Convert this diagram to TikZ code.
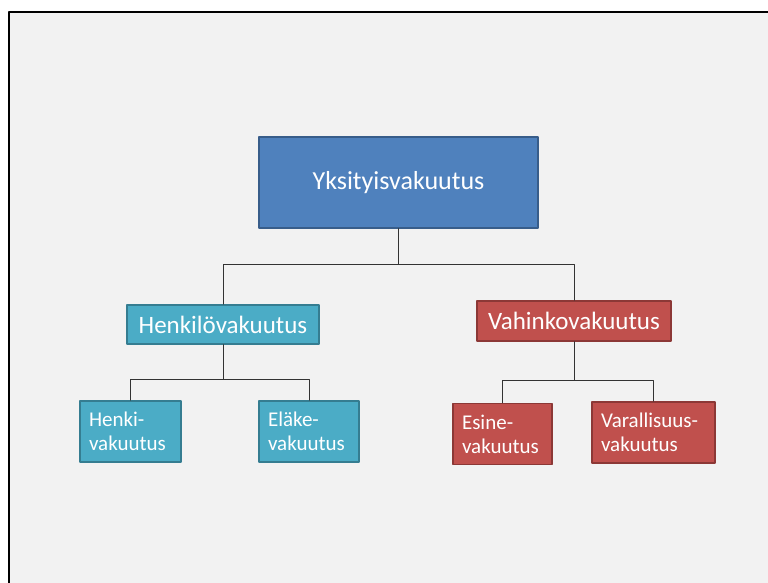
\documentclass[tikz,border=0pt]{standalone}
\usepackage{fontspec}
\setmainfont{Carlito}
\definecolor{slidegray}{HTML}{F2F2F2}
\definecolor{bluefill}{HTML}{4F81BD}
\definecolor{blueline}{HTML}{385D8A}
\definecolor{cyanfill}{HTML}{4BACC6}
\definecolor{cyanline}{HTML}{357D91}
\definecolor{redfill}{HTML}{C0504D}
\definecolor{redline}{HTML}{8C3836}
\tikzset{
  box/.style={rectangle,draw,line width=1.6pt,text=white,inner sep=0pt,align=center},
  leaf/.style={box,align=left,font=\fontsize{21}{24}\selectfont},
  link/.style={draw=black!80,line width=0.9pt}
}
\begin{document}
\begin{tikzpicture}[x=1pt,y=-1pt,line cap=round,line join=round]
\useasboundingbox (0,0) rectangle (768,583);
\fill[white] (0,0) rectangle (768,583);
\fill[slidegray] (8.5,12.5) rectangle (768,583);
\draw[line width=2pt] (8.5,583)--(8.5,12.5)--(768,12.5);
% boxes
\node[box,fill=bluefill,draw=blueline,minimum width=279,minimum height=91,
  font=\fontsize{26}{31}\selectfont] (yks) at (398.5,182.5) {Yksityisvakuutus};
\node[box,fill=cyanfill,draw=cyanline,minimum width=192,minimum height=39,
  font=\fontsize{25}{30}\selectfont] (henk) at (223,324.5) {Henkilövakuutus};
\node[box,fill=redfill,draw=redline,minimum width=194,minimum height=40,
  font=\fontsize{25}{30}\selectfont] (vahi) at (574,321) {Vahinkovakuutus};
\foreach \n/\x/\y/\w/\c/\t in {henki/130.5/431.5/101/cyan/{Henki-\\vakuutus},
  elake/309/431.5/100/cyan/{Eläke-\\vakuutus},
  esine/502.5/434/99/red/{Esine-\\vakuutus},
  vara/653.5/432.5/123/red/{Varallisuus-\\vakuutus}}
  \node[leaf,fill=\c fill,draw=\c line,minimum width=\w,minimum height=61,
    text width=\w-18] (\n) at (\x,\y) {\t};
% connectors
\draw[link] (yks.south) -- ++(0,36) -| (henk.north);
\draw[link] (yks.south) -- ++(0,36) -| (vahi.north);
\draw[link] (henk.south) -- ++(0,35) -| (henki.north);
\draw[link] (henk.south) -- ++(0,35) -| (elake.north);
\draw[link] (vahi.south) -- ++(0,39) -| (esine.north);
\draw[link] (vahi.south) -- ++(0,39) -| (vara.north);
\end{tikzpicture}
\end{document}
